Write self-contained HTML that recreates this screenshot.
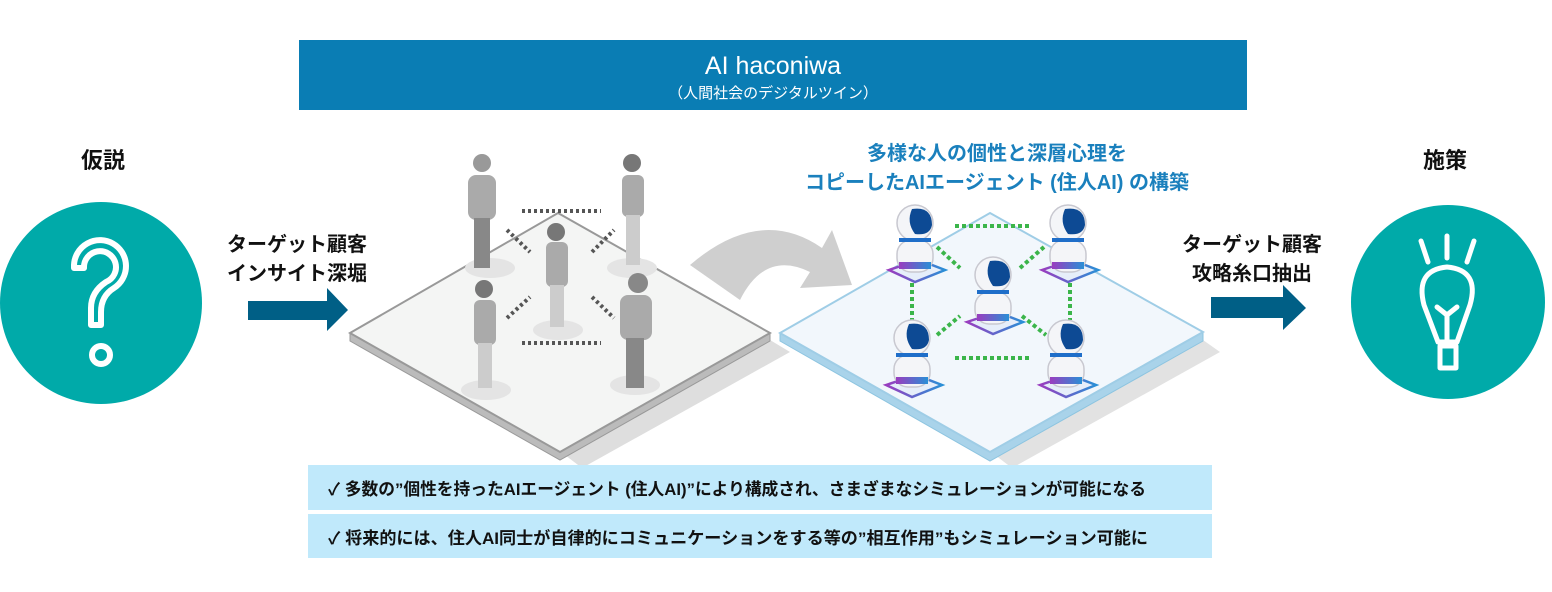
<!DOCTYPE html>
<html><head><meta charset="utf-8"><style>
html,body{margin:0;padding:0;background:#fff;}
svg{display:block;}
text{font-family:"Liberation Sans","Noto Sans CJK JP",sans-serif;}
</style></head><body>
<svg width="1552" height="592" viewBox="0 0 1552 592" xmlns="http://www.w3.org/2000/svg">
<defs>
<linearGradient id="rg" x1="0" x2="1"><stop offset="0" stop-color="#9a3dbf"/><stop offset="1" stop-color="#2a8fd6"/></linearGradient>
<g id="robot">
  <polygon points="-26,30 4,20 30,30 0,42" fill="#e6eefa" stroke="url(#rg)" stroke-width="2.5"/>
  <rect x="-18" y="0" width="36" height="32" rx="14" fill="#f4f5f8" stroke="#c8c8d0" stroke-width="1.5"/>
  <rect x="-16" y="22" width="32" height="7" fill="url(#rg)"/>
  <circle cx="0" cy="-17" r="18" fill="#f4f5f8" stroke="#c8c8d0" stroke-width="1.5"/>
  <path d="M-3 -31 Q17 -34 17 -15 Q15 -4 0 -6 Q-9 -18 -3 -31Z" fill="#0d4a94"/>
  <rect x="-16" y="-2" width="32" height="4" fill="#1f6ec9"/>
</g>
</defs>
<rect x="299" y="40" width="948" height="70" fill="#0a7db4"/>
<text x="773" y="74" text-anchor="middle" font-size="25" fill="#fff">AI haconiwa</text>
<text x="773" y="98" text-anchor="middle" font-size="15" fill="#fff">（人間社会のデジタルツイン）</text>

<text x="103" y="168" text-anchor="middle" font-size="22" font-weight="bold" fill="#111">仮説</text>
<circle cx="101" cy="303" r="101" fill="#00aaa9"/>
<path d="M74 268 L74 265 A26 26 0 1 1 114 288 Q101 296 101 312 L101 325 L91 325 L91 308 Q91 292 106 282 A16 16 0 1 0 84 268 Z" fill="none" stroke="#fff" stroke-width="6" stroke-linejoin="round"/>
<circle cx="101" cy="355" r="9" fill="none" stroke="#fff" stroke-width="6"/>

<text x="297" y="251" text-anchor="middle" font-size="20" font-weight="bold" fill="#111">ターゲット顧客</text>
<text x="297" y="280" text-anchor="middle" font-size="20" font-weight="bold" fill="#111">インサイト深堀</text>
<polygon points="248,301 327,301 327,288 348,310 327,331 327,320 248,320" fill="#005f86"/>

<polygon points="565,455 770,340 790,352 582,468" fill="#dedede"/>
<polygon points="350,333 560,452 770,333 770,341 560,460 350,341" fill="#bbb" stroke="#999" stroke-width="1"/>
<polygon points="558,213 770,333 560,452 350,333" fill="#f4f5f4" stroke="#999" stroke-width="2"/>
<g stroke="#555" stroke-width="4" stroke-dasharray="3 3">
<line x1="522" y1="211" x2="601" y2="211"/>
<line x1="522" y1="343" x2="601" y2="343"/>
<line x1="507" y1="230" x2="530" y2="252"/>
<line x1="592" y1="252" x2="614" y2="230"/>
<line x1="507" y1="318" x2="530" y2="297"/>
<line x1="592" y1="297" x2="614" y2="318"/>
</g>
<g fill="#aaa">
 <ellipse cx="490" cy="268" rx="25" ry="10" fill="#e4e4e4"/>
 <circle cx="482" cy="163" r="9" fill="#999"/><rect x="468" y="175" width="28" height="45" rx="8"/><rect x="474" y="218" width="16" height="50" fill="#888"/>
 <ellipse cx="632" cy="268" rx="25" ry="10" fill="#e4e4e4"/>
 <circle cx="632" cy="163" r="9" fill="#777"/><rect x="622" y="175" width="22" height="42" rx="6"/><rect x="626" y="215" width="14" height="50" fill="#ccc"/>
 <ellipse cx="558" cy="330" rx="25" ry="10" fill="#e4e4e4"/>
 <circle cx="556" cy="232" r="9" fill="#777"/><rect x="546" y="242" width="22" height="45" rx="6"/><rect x="550" y="285" width="14" height="42" fill="#ccc"/>
 <ellipse cx="486" cy="390" rx="25" ry="10" fill="#e4e4e4"/>
 <circle cx="484" cy="289" r="9" fill="#777"/><rect x="474" y="300" width="22" height="45" rx="6"/><rect x="478" y="343" width="14" height="45" fill="#ccc"/>
 <ellipse cx="635" cy="385" rx="25" ry="10" fill="#e4e4e4"/>
 <circle cx="638" cy="283" r="10" fill="#888"/><rect x="620" y="295" width="32" height="45" rx="8"/><rect x="626" y="338" width="18" height="50" fill="#888"/>
</g>

<path d="M690 265 Q760 205 822 248 L832 230 L852 285 L800 288 L810 272 Q765 250 740 300 Z" fill="#cfcfcf"/>

<text x="997" y="160" text-anchor="middle" font-size="20" font-weight="bold" fill="#1a80bd">多様な人の個性と深層心理を</text>
<text x="997" y="189" text-anchor="middle" font-size="20" font-weight="bold" fill="#1a80bd">コピーしたAIエージェント (住人AI) の構築</text>

<polygon points="995,455 1203,340 1220,352 1012,468" fill="#e2e2e2"/>
<polygon points="780,333 990,452 1203,332 1203,341 990,461 780,341" fill="#a9d3ea" stroke="#8cc4e0" stroke-width="1"/>
<polygon points="990,213 1203,332 990,452 780,333" fill="#f2f7fc" stroke="#9fcde6" stroke-width="2"/>
<g stroke="#3bb54a" stroke-width="4" stroke-dasharray="4 3">
<line x1="955" y1="226" x2="1032" y2="226"/>
<line x1="955" y1="358" x2="1032" y2="358"/>
<line x1="912" y1="276" x2="912" y2="320"/>
<line x1="1070" y1="276" x2="1070" y2="320"/>
<line x1="937" y1="247" x2="960" y2="268"/>
<line x1="1020" y1="268" x2="1044" y2="247"/>
<line x1="937" y1="335" x2="960" y2="316"/>
<line x1="1022" y1="316" x2="1046" y2="335"/>
</g>
<use href="#robot" transform="translate(915,240)"/>
<use href="#robot" transform="translate(1068,240)"/>
<use href="#robot" transform="translate(993,292)"/>
<use href="#robot" transform="translate(912,355)"/>
<use href="#robot" transform="translate(1066,355)"/>

<text x="1252" y="251" text-anchor="middle" font-size="20" font-weight="bold" fill="#111">ターゲット顧客</text>
<text x="1252" y="280" text-anchor="middle" font-size="20" font-weight="bold" fill="#111">攻略糸口抽出</text>
<polygon points="1211,297 1283,297 1283,285 1306,308 1283,330 1283,318 1211,318" fill="#005f86"/>

<text x="1445" y="168" text-anchor="middle" font-size="22" font-weight="bold" fill="#111">施策</text>
<circle cx="1448" cy="302" r="97" fill="#00aaa9"/>
<g fill="none" stroke="#fff" stroke-width="5" stroke-linecap="round" stroke-linejoin="round">
<line x1="1421" y1="241" x2="1428" y2="262"/>
<line x1="1447" y1="236" x2="1447" y2="258"/>
<line x1="1474" y1="241" x2="1467" y2="262"/>
<path d="M1438 342 L1424 305 Q1415 270 1447 267 Q1480 270 1470 305 L1457 342 Z"/>
<path d="M1437 307 L1447 315 L1457 307 M1447 315 L1447 342"/>
<rect x="1440" y="346" width="16" height="22"/>
</g>

<rect x="308" y="465" width="904" height="45" fill="#c0e9fb"/>
<rect x="308" y="514" width="904" height="44" fill="#c0e9fb"/>
<text x="328" y="495" font-size="17" font-weight="bold" fill="#111" textLength="818" lengthAdjust="spacingAndGlyphs">✓  多数の”個性を持ったAIエージェント  (住人AI)”により構成され、さまざまなシミュレーションが可能になる</text>
<text x="328" y="544" font-size="17" font-weight="bold" fill="#111" textLength="820" lengthAdjust="spacingAndGlyphs">✓  将来的には、住人AI同士が自律的にコミュニケーションをする等の”相互作用”もシミュレーション可能に</text>
</svg>
</body></html>
